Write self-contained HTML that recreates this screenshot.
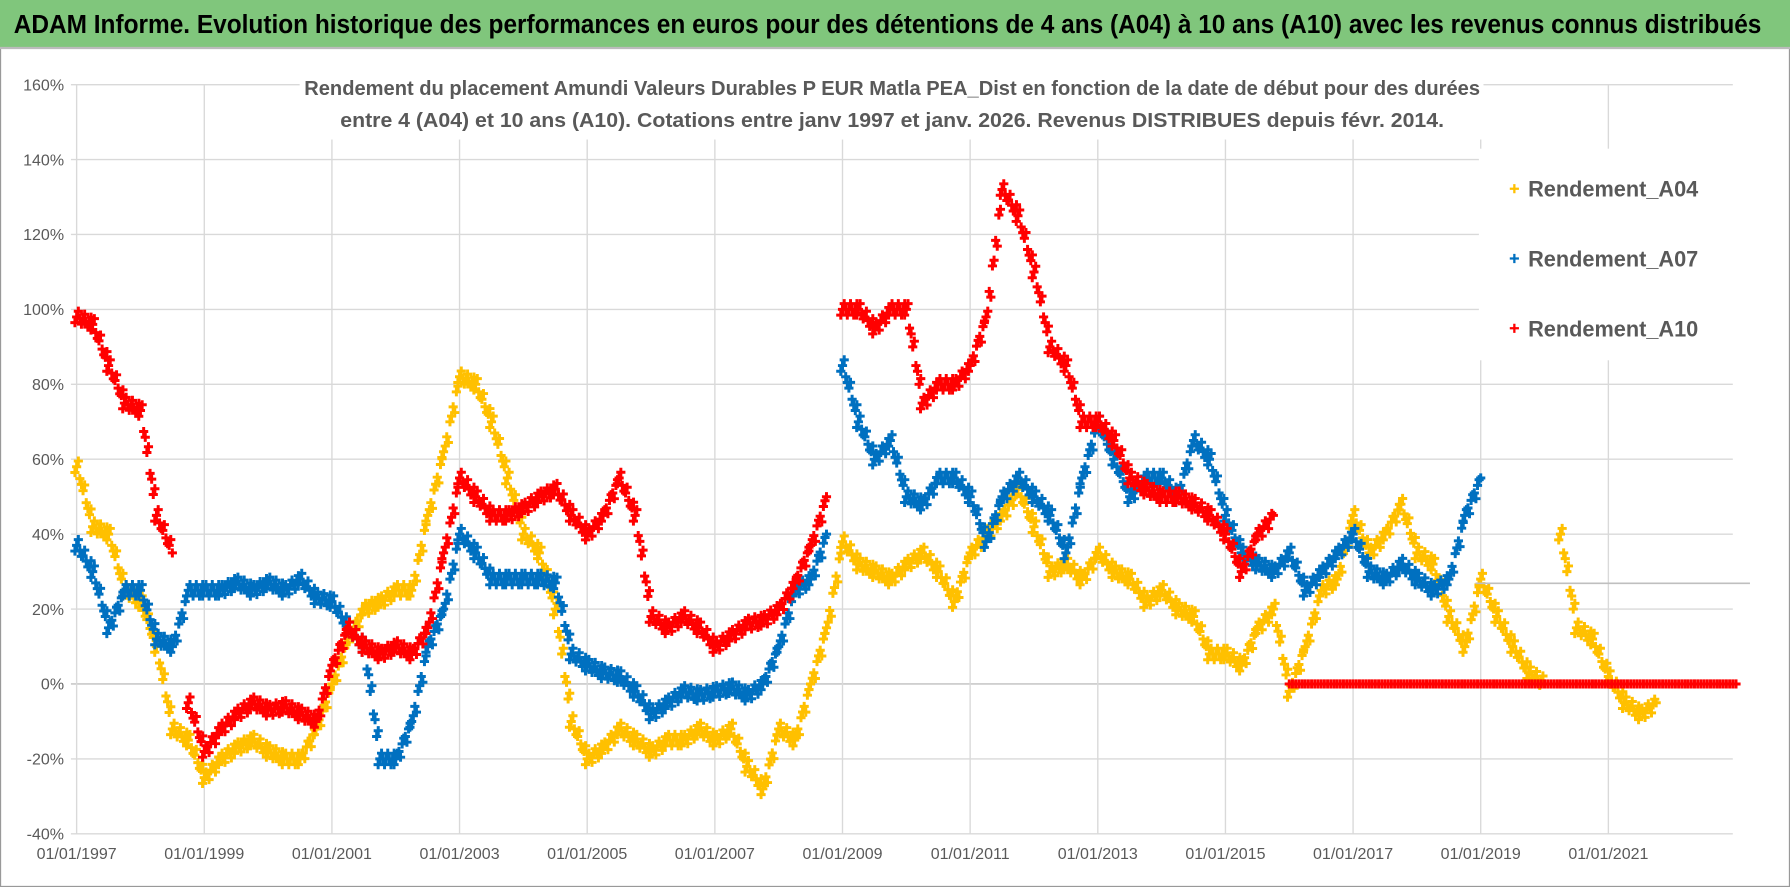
<!DOCTYPE html>
<html><head><meta charset="utf-8"><style>
html,body{margin:0;padding:0;background:#fff;}
svg{display:block;}
</style></head><body>
<svg id="chart" width="1790" height="887" viewBox="0 0 1565 775.5" preserveAspectRatio="none" xmlns="http://www.w3.org/2000/svg">
<rect x="0" y="0" width="1565" height="775.5" fill="#fff" stroke="#999" stroke-width="2"/>
<rect x="0" y="0" width="1565" height="42" fill="#80c67c"/>
<line x1="0" y1="42" x2="1565" y2="42" stroke="#bbb" stroke-width="2"/>
<text x="12" y="29" font-family="'Liberation Sans Narrow','Liberation Sans',sans-serif" font-weight="bold" font-size="23" fill="#000" textLength="1528" lengthAdjust="spacingAndGlyphs">ADAM Informe. Evolution historique des performances en euros pour des détentions de 4 ans (A04) à 10 ans (A10) avec les revenus connus distribués</text>
<g id="grid"></g>
<g id="axes"></g>
<rect x="262" y="60" width="1035" height="62" fill="#fff"/>
<text x="780" y="83" text-anchor="middle" font-family="'Liberation Sans Narrow','Liberation Sans',sans-serif" font-weight="bold" font-size="18" fill="#595959" textLength="1028" lengthAdjust="spacingAndGlyphs">Rendement du placement Amundi Valeurs Durables P EUR Matla PEA_Dist en fonction de la date de début pour des durées</text>
<text x="780" y="111" text-anchor="middle" font-family="'Liberation Sans Narrow','Liberation Sans',sans-serif" font-weight="bold" font-size="18" fill="#595959" textLength="965" lengthAdjust="spacingAndGlyphs">entre 4 (A04) et 10 ans (A10).  Cotations entre janv 1997 et janv. 2026. Revenus DISTRIBUES depuis févr. 2014.</text>
<g id="series"></g>
<g id="legend">
<rect x="1293" y="130" width="235" height="185" fill="#fff"/>
</g>
<line x1="1290" y1="510" x2="1530" y2="510" stroke="#bfbfbf" stroke-width="1.5"/>
</svg>
<script>
const NS='http://www.w3.org/2000/svg';
const startYear=1997, stepYears=0.25;
const yTicks=[160,140,120,100,80,60,40,20,0,-20,-40];
const xTickYears=[1997,1999,2001,2003,2005,2007,2009,2011,2013,2015,2017,2019,2021];
const xTickLabels=['01/01/1997','01/01/1999','01/01/2001','01/01/2003','01/01/2005','01/01/2007','01/01/2009','01/01/2011','01/01/2013','01/01/2015','01/01/2017','01/01/2019','01/01/2021'];
const seriesNames=['Rendement_A04','Rendement_A07','Rendement_A10'];
const a04=[58,42,40,25,22,10,-12,-15,-25,-20,-17,-15,-18,-20,-20,-12,0,12,20,22,25,25,45,62,82,80,70,55,40,35,20,-10,-20,-17,-12,-15,-18,-15,-15,-12,-15,-12,-22,-28,-12,-15,0,15,38,32,30,28,32,35,30,22,35,40,45,52,42,30,32,28,35,30,28,22,25,20,18,8,8,5,15,20,-2,10,25,28,45,35,40,48,35,32,18,10,28,18,10,3,0,40,15,12,2,-5,-8,-5];
const a07=[37,30,15,25,25,12,10,25,25,25,27,25,27,25,28,23,22,15,10,-20,-20,-10,10,20,40,35,28,28,28,28,27,8,5,3,2,-2,-8,-5,-2,-3,-2,-1,-3,0,10,25,28,40,85,70,60,65,50,48,55,55,50,38,50,55,50,45,35,55,70,60,50,55,55,50,65,60,45,35,32,30,35,25,30,35,40,30,28,32,28,25,28,45,55];
const a10=[98,96,85,75,73,45,35,-5,-18,-12,-8,-5,-7,-6,-8,-10,5,15,10,8,10,8,15,35,55,50,45,45,47,50,52,45,40,45,55,45,18,15,18,15,10,13,16,17,20,27,37,50,100,100,95,100,100,75,80,80,85,98,132,125,110,90,85,70,70,65,55,52,50,50,48,45,40,30,40,45,0,0,0,0,0,0,0,0,0,0,0,0,0,0,0,0,0,0,0,0,0,0,0,0,0,0,0,0,0];
const colors=['#ffc000','#0070c0','#ff0000'];
const X=t=>67+(t-1997)*55.8;
const Y=v=>598-v*3.275;
const grid=document.getElementById('grid'), axes=document.getElementById('axes');
yTicks.forEach(v=>{
  const l=document.createElementNS(NS,'line');
  l.setAttribute('x1',62);l.setAttribute('x2',1515);l.setAttribute('y1',Y(v));l.setAttribute('y2',Y(v));
  l.setAttribute('stroke',v===0?'#bfbfbf':'#d9d9d9');l.setAttribute('stroke-width',1.2);
  
  
  grid.appendChild(l);
  const t=document.createElementNS(NS,'text');
  t.setAttribute('x',56);t.setAttribute('y',Y(v)+5);t.setAttribute('text-anchor','end');
  t.setAttribute('font-family',"'Liberation Sans Narrow','Liberation Sans',sans-serif");t.setAttribute('font-size','14');t.setAttribute('fill','#595959');
  t.textContent=v+'%';
  
  
  axes.appendChild(t);
});
xTickYears.forEach((yr,i)=>{
  const l=document.createElementNS(NS,'line');
  l.setAttribute('x1',X(yr));l.setAttribute('x2',X(yr));l.setAttribute('y1',Y(160));l.setAttribute('y2',Y(-40));
  l.setAttribute('stroke','#d9d9d9');l.setAttribute('stroke-width',1.2);
  
  
  grid.appendChild(l);
  const t=document.createElementNS(NS,'text');
  t.setAttribute('x',X(yr));t.setAttribute('y',751);t.setAttribute('text-anchor','middle');
  t.setAttribute('font-family',"'Liberation Sans Narrow','Liberation Sans',sans-serif");t.setAttribute('font-size','14');t.setAttribute('fill','#595959');
  t.textContent=xTickLabels[i];
  
  
  axes.appendChild(t);
});
const sg=document.getElementById('series');
const plus=(x,y)=>`M${(x-4).toFixed(1)},${y.toFixed(1)}h8M${x.toFixed(1)},${(y-4).toFixed(1)}v8`;
[a04,a07,a10].forEach((arr,si)=>{
  const g=document.createElementNS(NS,'g');
  
  
  let d='';
  const flat = si===2;
  for(let i=0;i<arr.length;i++){
    const x0=X(startYear+i*stepYears), y0=Y(arr[i]);
    d+=plus(x0,y0);
    if(i<arr.length-1){
      const x1=X(startYear+(i+1)*stepYears), y1=Y(arr[i+1]);
      if(Math.abs(arr[i+1]-arr[i])>35) continue;
      const n=5;
      const zero = arr[i]===0 && arr[i+1]===0;
      for(let k=1;k<n;k++){
        const x=x0+(x1-x0)*k/n, y=y0+(y1-y0)*k/n;
        d+=plus(x,y);
        if(!zero){
          d+=plus(x+1.4,y+(k%2?5:-5));
        }
      }
      if(!zero) d+=plus(x0+1.5,y0-5)+plus(x0-1.5,y0+5);
    }
  }
  const p=document.createElementNS(NS,'path');
  p.setAttribute('d',d);
  p.setAttribute('stroke',colors[si]);p.setAttribute('stroke-width',2.6);p.setAttribute('fill','none');
  
  
  g.appendChild(p);
  sg.appendChild(g);
});
const lg=document.getElementById('legend');
seriesNames.forEach((n,i)=>{
  const y=165+i*61;
  const p=document.createElementNS(NS,'path');
  p.setAttribute('d',`M${1320},${y}h8M${1324},${y-4}v8`);p.setAttribute('stroke',colors[i]);p.setAttribute('stroke-width',2);
  
  
  lg.appendChild(p);
  const t=document.createElementNS(NS,'text');
  t.setAttribute('x',1336);t.setAttribute('y',y+7);
  t.setAttribute('font-family',"'Liberation Sans Narrow','Liberation Sans',sans-serif");t.setAttribute('font-weight','bold');t.setAttribute('font-size','19');t.setAttribute('fill','#595959');
  t.textContent=n;
  
  
  lg.appendChild(t);
});
</script>
</body></html>
